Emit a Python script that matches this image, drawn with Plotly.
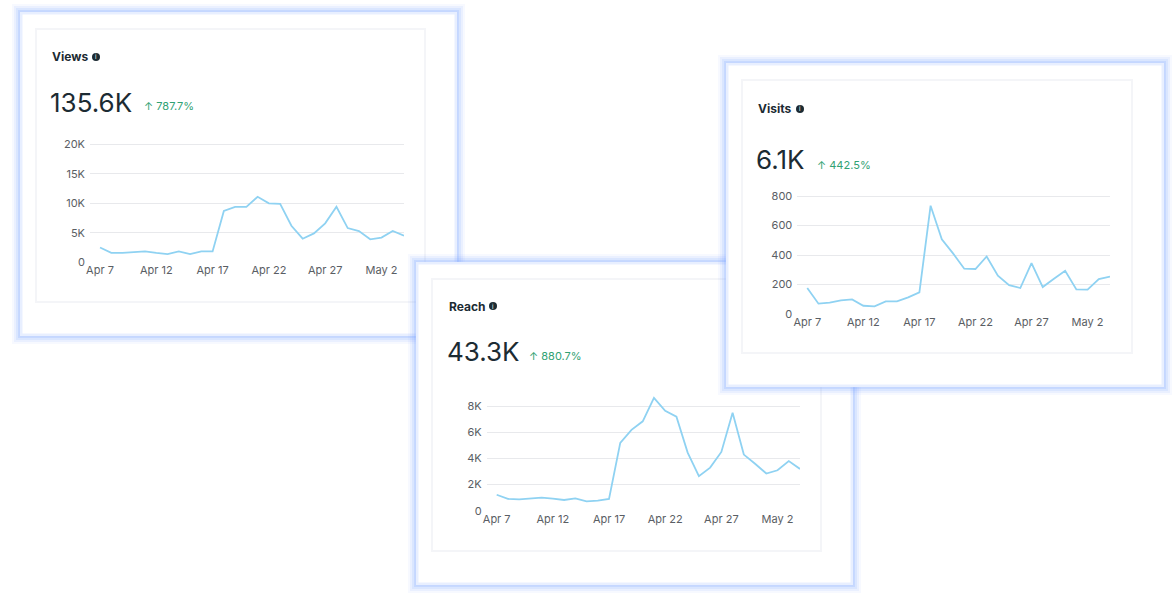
import plotly.graph_objects as go

W, H = 1175, 600

dates = [
    "2025-04-07", "2025-04-08", "2025-04-09", "2025-04-10", "2025-04-11", "2025-04-12", "2025-04-13",
    "2025-04-14", "2025-04-15", "2025-04-16", "2025-04-17", "2025-04-18", "2025-04-19", "2025-04-20",
    "2025-04-21", "2025-04-22", "2025-04-23", "2025-04-24", "2025-04-25", "2025-04-26", "2025-04-27",
    "2025-04-28", "2025-04-29", "2025-04-30", "2025-05-01", "2025-05-02", "2025-05-03", "2025-05-04",
]
tick_dates = ["2025-04-07", "2025-04-12", "2025-04-17", "2025-04-22", "2025-04-27", "2025-05-02"]
tick_text = ["Apr 7", "Apr 12", "Apr 17", "Apr 22", "Apr 27", "May 2"]

views = [2500, 1600, 1600, 1750, 1850, 1600, 1400, 1850, 1400, 1850, 1850, 8700, 9400, 9400,
         11100, 10000, 9900, 6200, 4000, 4900, 6600, 9400, 5800, 5300, 3900, 4200, 5300, 4500]
reach = [1220, 900, 870, 950, 1000, 920, 820, 950, 720, 770, 900, 5200, 6200, 6850,
         8650, 7650, 7200, 4450, 2650, 3300, 4500, 7500, 4300, 3600, 2850, 3100, 3800, 3200]
visits = [176, 70, 77, 93, 99, 56, 52, 86, 86, 113, 147, 734, 506, 411,
          307, 305, 390, 260, 196, 176, 345, 183, 239, 293, 167, 165, 237, 253]

views_ticks = [0, 5000, 10000, 15000, 20000]
views_labels = ["0", "5K", "10K", "15K", "20K"]
reach_ticks = [0, 2000, 4000, 6000, 8000]
reach_labels = ["0", "2K", "4K", "6K", "8K"]
visits_ticks = [0, 200, 400, 600, 800]
visits_labels = ["0", "200", "400", "600", "800"]

titles = ["Views", "Reach", "Visits"]
totals = ["135.6K", "43.3K", "6.1K"]
changes = ["↑ 787.7%", "↑ 880.7%", "↑ 442.5%"]

FONT = "Inter"
DARK = "#1c2b33"
GREEN = "#31a173"
LINE = "#8fd2f2"
GRID = "#e8e9ec"
TICK = "#5a5e64"


def px(x):
    return x / W


def py(y):
    return 1 - y / H


# card layout in pixels: outer box, title pos, axis box (top of axis box = top tick line)
cards = [
    dict(box=(20, 12, 457, 336), title=(50, 57), icon=96, num=(50, 102), chg=(144, 106),
         xdom=(90, 404), ydom=(144.3, 262.3)),
    dict(box=(416, 262, 853, 585), title=(447, 306), icon=493, num=(447, 351), chg=(529, 356),
         xdom=(486.7, 800), ydom=(406.3, 510.7)),
    dict(box=(726, 63, 1164, 387), title=(756, 109), icon=800, num=(756, 160), chg=(817, 165),
         xdom=(797.3, 1110), ydom=(196, 314)),
]
series = [views, reach, visits]
yticks = [(views_ticks, views_labels), (reach_ticks, reach_labels), (visits_ticks, visits_labels)]

fig = go.Figure()
shapes = []
annotations = []

for i, c in enumerate(cards):
    x0, y0, x1, y1 = c["box"]
    # soft blue glow round the card
    for g, a in [(8, 0.06), (6, 0.09), (4, 0.13), (2, 0.18)]:
        shapes.append(dict(type="rect", xref="paper", yref="paper", layer="below",
                           x0=px(x0 - g), x1=px(x1 + g), y0=py(y1 + g), y1=py(y0 - g),
                           fillcolor=f"rgba(115,160,255,{a})", line=dict(width=0)))
    shapes.append(dict(type="rect", xref="paper", yref="paper", layer="below",
                       x0=px(x0), x1=px(x1), y0=py(y1), y1=py(y0),
                       fillcolor="#ffffff", line=dict(width=0)))
    shapes.append(dict(type="rect", xref="paper", yref="paper", layer="below",
                       x0=px(x0 + 1), x1=px(x1 - 1), y0=py(y1 - 1), y1=py(y0 + 1),
                       fillcolor="rgba(0,0,0,0)", line=dict(color="rgba(190,210,255,0.35)", width=3)))
    # inner panel
    shapes.append(dict(type="rect", xref="paper", yref="paper", layer="below",
                       x0=px(x0 + 16), x1=px(x1 - 32), y0=py(y1 - 34), y1=py(y0 + 17),
                       fillcolor="#ffffff", line=dict(color="#f4f5f8", width=2)))
    # info icon
    tx, ty = c["title"]
    ix = c["icon"]
    shapes.append(dict(type="circle", xref="paper", yref="paper", layer="below",
                       x0=px(ix - 4), x1=px(ix + 4), y0=py(ty + 4), y1=py(ty - 4),
                       fillcolor=DARK, line=dict(width=0)))
    annotations.append(dict(text="i", x=px(ix), y=py(ty), xref="paper", yref="paper",
                            showarrow=False, xanchor="center", yanchor="middle",
                            font=dict(family=FONT, size=6, color="white")))
    annotations.append(dict(text=f"<b>{titles[i]}</b>", x=px(tx), y=py(ty), xref="paper", yref="paper",
                            showarrow=False, xanchor="left", yanchor="middle",
                            font=dict(family=FONT, size=12, color=DARK)))
    nx_, ny_ = c["num"]
    annotations.append(dict(text=totals[i], x=px(nx_ - 2), y=py(ny_), xref="paper", yref="paper",
                            showarrow=False, xanchor="left", yanchor="middle",
                            font=dict(family=FONT, size=26, color=DARK)))
    cx, cy = c["chg"]
    annotations.append(dict(text=changes[i], x=px(cx - 2), y=py(cy), xref="paper", yref="paper",
                            showarrow=False, xanchor="left", yanchor="middle",
                            font=dict(family=FONT, size=11, color=GREEN)))

    n = "" if i == 0 else str(i + 1)
    tv, tt = yticks[i]
    # leave headroom above the top gridline so peaks are not clipped
    yb, yt = c["ydom"][1], c["ydom"][0]
    head = 0.125
    ytop = yt - (yb - yt) * head
    fig.add_trace(go.Scatter(x=dates, y=series[i], mode="lines", xaxis="x" + n, yaxis="y" + n,
                             line=dict(color=LINE, width=1.8), hoverinfo="x+y"))
    fig.layout["xaxis" + n] = dict(
        domain=[px(c["xdom"][0]), px(c["xdom"][1])], anchor="y" + n, type="date",
        range=["2025-04-06 02:40", "2025-05-04"], tickvals=tick_dates, ticktext=tick_text,
        showgrid=False, zeroline=False, showline=False, ticks="",
        tickfont=dict(family=FONT, size=11, color=TICK), fixedrange=True)
    fig.layout["yaxis" + n] = dict(
        domain=[py(yb), py(ytop)], anchor="x" + n,
        range=[0, tv[-1] * (1 + head)], tickvals=tv, ticktext=tt, showgrid=True, gridcolor=GRID,
        gridwidth=1, zeroline=False, showline=False, ticks="", ticklabelstandoff=4,
        tickfont=dict(family=FONT, size=11, color=TICK), fixedrange=True)

fig.update_layout(
    width=W, height=H,
    margin=dict(l=0, r=0, t=0, b=0, autoexpand=False),
    paper_bgcolor="white",
    plot_bgcolor="rgba(0,0,0,0)",
    showlegend=False,
    shapes=shapes,
    annotations=annotations,
)

fig.write_html(
    "out.html",
    config={"displayModeBar": False},
    post_script="document.body.style.margin='0';document.body.style.overflow='hidden';",
)
